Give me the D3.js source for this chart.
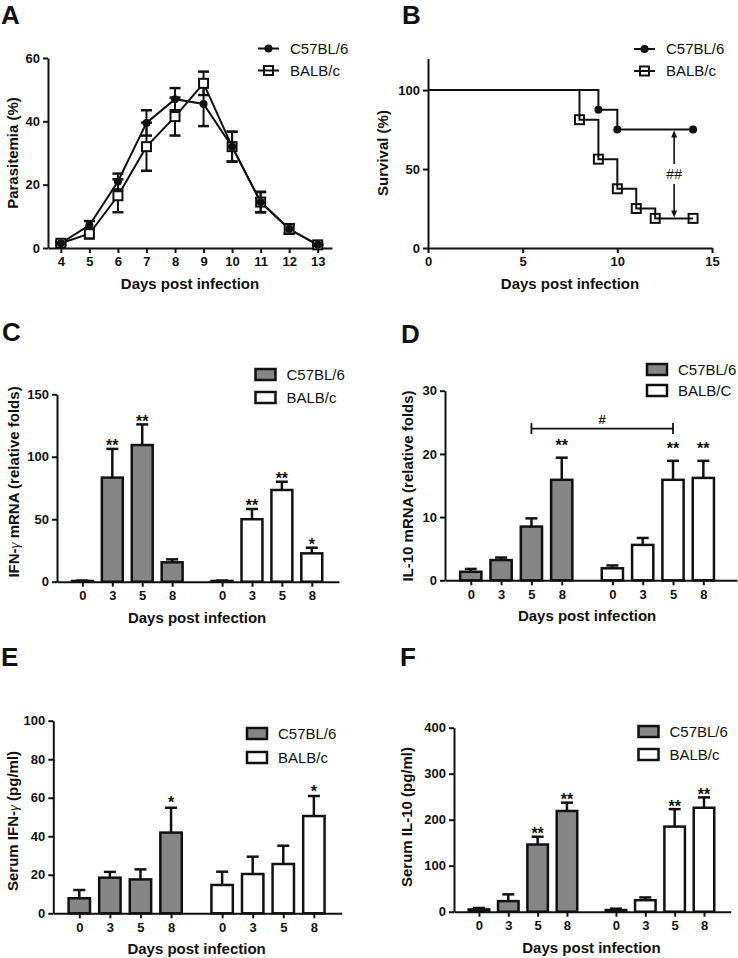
<!DOCTYPE html>
<html><head><meta charset="utf-8">
<script src="https://cdn.jsdelivr.net/npm/d3@7"></script>
<style>
body{margin:0;background:#fff}
svg{display:block}
</style></head><body>
<svg id="chart" width="738" height="958"></svg>
<script>
// ================= DATA =================
const strainNames = ["C57BL/6", "BALB/c"];
const strainNamesD = ["C57BL/6", "BALB/C"];

// Panel A: parasitemia (%)
const parasitemiaDays = [4, 5, 6, 7, 8, 9, 10, 11, 12, 13];
const parasitemiaC57 = [1.5, 7.2, 21, 39.5, 47, 45.5, 32, 14.5, 6, 1];
const parasitemiaC57Err = [0.5, 1.3, 2.5, 4, 3.5, 7, 4.7, 3.2, 1.5, 0.2];
const parasitemiaBALB = [1.5, 4.5, 16.5, 32, 41.5, 52, 32, 14.5, 6, 1];
const parasitemiaBALBErr = [0.5, 1.5, 5.2, 7.6, 6, 3.7, 4.7, 3.2, 1.5, 0.2];
const parasitemiaTicks = [0, 20, 40, 60];

// Panel B: survival (%)
const survivalC57Days = [0, 9, 10, 14];
const survivalC57 = [100, 87.5, 75, 75];
const survivalBALBDays = [0, 8, 9, 10, 11, 12, 14];
const survivalBALB = [100, 81.25, 56.25, 37.5, 25, 18.75, 18.75];
const survivalTicksY = [0, 50, 100];
const survivalTicksX = [0, 5, 10, 15];
const survivalCompareDay = 13;
const survivalCompareLabel = "##";

// Bar panels: days
const barDayLabels = ["0", "3", "5", "8"];

// Panel C: IFN-gamma mRNA
const ifnMrnaC57 = [0.6, 83.3, 109.4, 15.5];
const ifnMrnaC57Err = [0.3, 23, 16.5, 2.4];
const ifnMrnaC57Sig = ["", "**", "**", ""];
const ifnMrnaBALB = [0.6, 50, 73.4, 22.7];
const ifnMrnaBALBErr = [0.3, 8.2, 6.6, 4.5];
const ifnMrnaBALBSig = ["", "**", "**", "*"];
const ifnMrnaTicks = [0, 50, 100, 150];

// Panel D: IL-10 mRNA
const il10MrnaC57 = [1.35, 3.2, 8.5, 15.9];
const il10MrnaC57Err = [0.45, 0.4, 1.3, 3.5];
const il10MrnaC57Sig = ["", "", "", "**"];
const il10MrnaBALB = [1.9, 5.6, 15.9, 16.2];
const il10MrnaBALBErr = [0.45, 1.1, 3.0, 2.7];
const il10MrnaBALBSig = ["", "", "**", "**"];
const il10MrnaTicks = [0, 10, 20, 30];
const il10CompareValue = 24;
const il10CompareDayIndex = 2;
const il10CompareLabel = "#";

// Panel E: serum IFN-gamma
const serumIfnC57 = [7.8, 18.5, 17.6, 41.9];
const serumIfnC57Err = [4.3, 3, 5.2, 12.9];
const serumIfnC57Sig = ["", "", "", "*"];
const serumIfnBALB = [14.7, 20.4, 25.6, 50.5];
const serumIfnBALBErr = [6.9, 9, 9.5, 10.4];
const serumIfnBALBSig = ["", "", "", "*"];
const serumIfnTicks = [0, 20, 40, 60, 80, 100];

// Panel F: serum IL-10
const serumIl10C57 = [5, 23, 146, 219];
const serumIl10C57Err = [3, 14.7, 17, 18];
const serumIl10C57Sig = ["", "", "**", "**"];
const serumIl10BALB = [3.6, 25, 185, 226];
const serumIl10BALBErr = [3, 6, 38, 22.5];
const serumIl10BALBSig = ["", "", "**", "**"];
const serumIl10Ticks = [0, 100, 200, 300, 400];

// ================= STYLE =================
const FONT = '"Liberation Sans", Arial, Helvetica, sans-serif';
const INK = "#111";
const GRAY = "#868686";
const GROUP_OFFSET = 4.67;
const svg = d3.select("#chart");

function styleAxis(g) {
  g.attr("font-family", FONT);
  g.select(".domain").attr("stroke", INK).attr("stroke-width", 2);
  g.selectAll(".tick line").attr("stroke", INK).attr("stroke-width", 2);
  g.selectAll(".tick text").attr("font-size", 13).attr("font-weight", "bold").attr("fill", INK);
}
function panelLetter(letter, x, y) {
  svg.append("text").attr("x", x).attr("y", y).text(letter)
    .attr("font-family", FONT).attr("font-size", 26).attr("font-weight", "bold").attr("fill", INK);
}
function xTitle(x, y) {
  svg.append("text").attr("x", x).attr("y", y).attr("text-anchor", "middle")
    .attr("font-family", FONT).attr("font-size", 15).attr("font-weight", "bold").attr("fill", INK)
    .text("Days post infection");
}
function yTitle(parts, x, y) {
  const t = svg.append("text").attr("transform", `translate(${x},${y}) rotate(-90)`)
    .attr("text-anchor", "middle").attr("font-family", FONT).attr("font-size", 15)
    .attr("font-weight", "bold").attr("fill", INK);
  parts.forEach(p => {
    const s = t.append("tspan").text(p.t);
    if (p.greek) s.attr("font-weight", "normal").attr("font-family", '"Liberation Serif", "DejaVu Serif", serif').attr("font-style", "italic");
  });
}
function drawMarker(g, type, cx, cy, fill) {
  if (type === "circle") {
    g.append("circle").attr("cx", cx).attr("cy", cy).attr("r", 4).attr("fill", INK);
  } else {
    g.append("rect").attr("x", cx - 4.5).attr("y", cy - 4.5).attr("width", 9).attr("height", 9)
      .attr("fill", fill).attr("stroke", INK).attr("stroke-width", 2);
  }
}
function lineLegend(items, x, y, dy) {
  items.forEach((it, i) => {
    const yy = y + i * dy;
    svg.append("line").attr("x1", x).attr("x2", x + 21).attr("y1", yy).attr("y2", yy)
      .attr("stroke", INK).attr("stroke-width", 2);
    drawMarker(svg, it.type, x + 10.5, yy, "none");
    svg.append("text").attr("x", x + 32).attr("y", yy).attr("dy", "0.36em").text(it.name)
      .attr("font-family", FONT).attr("font-size", 15).attr("fill", INK);
  });
}

// ================= PANEL A =================
(function () {
  const L = 48, R = 332, B = 248, T = 58;
  const x = d3.scaleLinear().domain([3.55, 13.5]).range([L, R]);
  const y = d3.scaleLinear().domain([0, 60]).range([B, T]);
  const g = svg.append("g");
  styleAxis(g.append("g").attr("transform", `translate(0,${B})`)
    .call(d3.axisBottom(x).tickValues(parasitemiaDays).tickFormat(d3.format("d")).tickSize(5).tickPadding(4).tickSizeOuter(0)));
  styleAxis(g.append("g").attr("transform", `translate(${L},0)`)
    .call(d3.axisLeft(y).tickValues(parasitemiaTicks).tickSize(5).tickPadding(3).tickSizeOuter(0)));
  const series = [
    { vals: parasitemiaBALB, err: parasitemiaBALBErr, type: "square" },
    { vals: parasitemiaC57, err: parasitemiaC57Err, type: "circle" }
  ];
  const line = d3.line().x((d, i) => x(parasitemiaDays[i])).y(d => y(d));
  series.forEach(s => {
    g.append("path").datum(s.vals).attr("d", line).attr("fill", "none").attr("stroke", INK).attr("stroke-width", 2);
    s.vals.forEach((v, i) => {
      const cx = x(parasitemiaDays[i]);
      g.append("line").attr("x1", cx).attr("x2", cx).attr("y1", y(v - s.err[i])).attr("y2", y(v + s.err[i]))
        .attr("stroke", INK).attr("stroke-width", 2);
      [v - s.err[i], v + s.err[i]].forEach(e => g.append("line").attr("x1", cx - 5.5).attr("x2", cx + 5.5)
        .attr("y1", y(e)).attr("y2", y(e)).attr("stroke", INK).attr("stroke-width", 2.5));
    });
  });
  series.forEach(s => s.vals.forEach((v, i) => drawMarker(g, s.type, x(parasitemiaDays[i]), y(v), "#fff")));
  lineLegend([{ name: strainNames[0], type: "circle" }, { name: strainNames[1], type: "square" }], 258, 48.5, 22);
  xTitle((L + R) / 2, B + 41);
  yTitle([{ t: "Parasitemia (%)" }], 18, 153);
  panelLetter("A", 1, 24);
})();

// ================= PANEL B =================
(function () {
  const L = 428, R = 712, B = 248, T = 58.5;
  const x = d3.scaleLinear().domain([0, 15]).range([L, R]);
  const y = d3.scaleLinear().domain([0, 120]).range([B, T]);
  const g = svg.append("g");
  styleAxis(g.append("g").attr("transform", `translate(0,${B})`)
    .call(d3.axisBottom(x).tickValues(survivalTicksX).tickSize(5).tickPadding(4).tickSizeOuter(0)));
  styleAxis(g.append("g").attr("transform", `translate(${L},0)`)
    .call(d3.axisLeft(y).tickValues(survivalTicksY).tickSize(5).tickPadding(3).tickSizeOuter(0)));
  const step = d3.line().curve(d3.curveStepAfter).x(d => x(d[0])).y(d => y(d[1]));
  const series = [
    { days: survivalBALBDays, vals: survivalBALB, type: "square" },
    { days: survivalC57Days, vals: survivalC57, type: "circle" }
  ];
  series.forEach(s => {
    const pts = s.days.map((d, i) => [d, s.vals[i]]);
    g.append("path").datum(pts).attr("d", step).attr("fill", "none").attr("stroke", INK).attr("stroke-width", 2);
    pts.slice(1).forEach(p => drawMarker(g, s.type, x(p[0]), y(p[1]), "none"));
  });
  // comparison arrow
  const ax = x(survivalCompareDay);
  const yTopV = survivalC57[survivalC57.length - 1], yBotV = survivalBALB[survivalBALB.length - 1];
  const y1 = y(yTopV), y2 = y(yBotV), ym = (y1 + y2) / 2;
  g.append("line").attr("x1", ax).attr("x2", ax).attr("y1", y1 + 5).attr("y2", ym - 10).attr("stroke", INK).attr("stroke-width", 1.6);
  g.append("line").attr("x1", ax).attr("x2", ax).attr("y1", ym + 10).attr("y2", y2 - 5).attr("stroke", INK).attr("stroke-width", 1.6);
  g.append("path").attr("d", `M${ax},${y1 + 1}L${ax - 3},${y1 + 8}L${ax + 3},${y1 + 8}Z`).attr("fill", INK);
  g.append("path").attr("d", `M${ax},${y2 - 1}L${ax - 3},${y2 - 8}L${ax + 3},${y2 - 8}Z`).attr("fill", INK);
  g.append("text").attr("x", ax).attr("y", ym).attr("dy", "0.36em").attr("text-anchor", "middle")
    .attr("font-family", FONT).attr("font-size", 14).attr("fill", INK).text(survivalCompareLabel);
  lineLegend([{ name: strainNames[0], type: "circle" }, { name: strainNames[1], type: "square" }], 634, 49, 22);
  xTitle((L + R) / 2, B + 41);
  yTitle([{ t: "Survival (%)" }], 388, 153);
  panelLetter("B", 402, 24);
})();

// ================= BAR PANELS =================
function barPanel(o) {
  const g = svg.append("g");
  const x = d3.scaleLinear().domain(o.slotDomain).range([o.left, o.right]);
  const y = d3.scaleLinear().domain([0, o.yMax]).range([o.bottom, o.top]);
  const bw = (x(1) - x(0)) * 0.7;
  const groups = [
    { vals: o.c57, err: o.c57Err, sig: o.c57Sig, fill: GRAY },
    { vals: o.balb, err: o.balbErr, sig: o.balbSig, fill: "#fff" }
  ];
  const slots = [], labels = [];
  groups.forEach((s, gi) => barDayLabels.forEach((d, i) => { slots.push(i + gi * GROUP_OFFSET); labels.push(d); }));
  const pos = (gi, i) => x(i + gi * GROUP_OFFSET);

  groups.forEach((s, gi) => {
    const data = s.vals.map((v, i) => ({ v, e: s.err[i], sig: s.sig[i], cx: pos(gi, i) }));
    g.selectAll(null).data(data).join("line")
      .attr("x1", d => d.cx).attr("x2", d => d.cx).attr("y1", d => y(d.v)).attr("y2", d => y(d.v + d.e))
      .attr("stroke", INK).attr("stroke-width", 2.5);
    g.selectAll(null).data(data).join("line")
      .attr("x1", d => d.cx - 6).attr("x2", d => d.cx + 6).attr("y1", d => y(d.v + d.e)).attr("y2", d => y(d.v + d.e))
      .attr("stroke", INK).attr("stroke-width", 2.5);
    g.selectAll(null).data(data).join("rect")
      .attr("x", d => d.cx - bw / 2).attr("y", d => y(d.v)).attr("width", bw).attr("height", d => y(0) - y(d.v))
      .attr("fill", s.fill).attr("stroke", INK).attr("stroke-width", 2.5);
    g.selectAll(null).data(data.filter(d => d.sig)).join("text")
      .attr("x", d => d.cx).attr("y", d => y(d.v + d.e) - o.starGap + 9.5).attr("text-anchor", "middle")
      .attr("font-family", FONT).attr("font-size", 16).attr("font-weight", "bold").attr("fill", INK).text(d => d.sig);
  });

  styleAxis(g.append("g").attr("transform", `translate(0,${o.bottom})`)
    .call(d3.axisBottom(x).tickValues(slots).tickFormat((d, i) => labels[i]).tickSize(5).tickPadding(4).tickSizeOuter(0)));
  styleAxis(g.append("g").attr("transform", `translate(${o.left},0)`)
    .call(d3.axisLeft(y).tickValues(o.ticks).tickSize(5).tickPadding(3).tickSizeOuter(0)));

  if (o.compare) {
    const xa = pos(0, o.compare.index), xb = pos(1, o.compare.index), yc = y(o.compare.value);
    g.append("line").attr("x1", xa).attr("x2", xb).attr("y1", yc).attr("y2", yc).attr("stroke", INK).attr("stroke-width", 1.8);
    [xa, xb].forEach(xx => g.append("line").attr("x1", xx).attr("x2", xx).attr("y1", yc - 5.5).attr("y2", yc + 5.5)
      .attr("stroke", INK).attr("stroke-width", 1.8));
    g.append("text").attr("x", (xa + xb) / 2).attr("y", yc - 5).attr("text-anchor", "middle")
      .attr("font-family", FONT).attr("font-size", 13).attr("font-weight", "bold").attr("fill", INK).text(o.compare.label);
  }

  // legend
  o.names.forEach((nm, i) => {
    const ly = o.legY + i * o.legDy;
    svg.append("rect").attr("x", o.legX).attr("y", ly).attr("width", 20).attr("height", 11)
      .attr("fill", groups[i].fill).attr("stroke", INK).attr("stroke-width", 2.5);
    svg.append("text").attr("x", o.legX + 31).attr("y", ly + 5.5).attr("dy", "0.36em").text(nm)
      .attr("font-family", FONT).attr("font-size", 15).attr("fill", INK);
  });

  xTitle((pos(0, 0) + pos(1, 3)) / 2, o.bottom + 41);
  yTitle(o.yLabel, o.yLabX, o.yLabY);
  panelLetter(o.letter, o.letX, o.letY);
}

barPanel({
  letter: "C", letX: 2, letY: 341,
  left: 57, right: 339, bottom: 581.7, top: 394.3, yMax: 150, ticks: ifnMrnaTicks, slotDomain: [-0.85, 8.58],
  c57: ifnMrnaC57, c57Err: ifnMrnaC57Err, c57Sig: ifnMrnaC57Sig,
  balb: ifnMrnaBALB, balbErr: ifnMrnaBALBErr, balbSig: ifnMrnaBALBSig,
  starGap: 7, names: strainNames, legX: 255.5, legY: 369, legDy: 23,
  yLabel: [{ t: "IFN-" }, { t: "γ", greek: true }, { t: " mRNA (relative folds)" }], yLabX: 19, yLabY: 482
});
barPanel({
  letter: "D", letX: 401, letY: 343,
  left: 445, right: 737, bottom: 580.3, top: 390.7, yMax: 30, ticks: il10MrnaTicks, slotDomain: [-0.85, 8.78],
  c57: il10MrnaC57, c57Err: il10MrnaC57Err, c57Sig: il10MrnaC57Sig,
  balb: il10MrnaBALB, balbErr: il10MrnaBALBErr, balbSig: il10MrnaBALBSig,
  starGap: 16, names: strainNamesD, legX: 647, legY: 364, legDy: 21,
  compare: { index: il10CompareDayIndex, value: il10CompareValue, label: il10CompareLabel },
  yLabel: [{ t: "IL-10 mRNA (relative folds)" }], yLabX: 413, yLabY: 486
});
barPanel({
  letter: "E", letX: 1, letY: 666,
  left: 53.3, right: 341.7, bottom: 913.3, top: 720.7, yMax: 100, ticks: serumIfnTicks, slotDomain: [-0.85, 8.58],
  c57: serumIfnC57, c57Err: serumIfnC57Err, c57Sig: serumIfnC57Sig,
  balb: serumIfnBALB, balbErr: serumIfnBALBErr, balbSig: serumIfnBALBSig,
  starGap: 9, names: strainNames, legX: 247, legY: 728, legDy: 24,
  yLabel: [{ t: "Serum IFN-" }, { t: "γ", greek: true }, { t: " (pg/ml)" }], yLabX: 18, yLabY: 821
});
barPanel({
  letter: "F", letX: 400, letY: 666,
  left: 454, right: 730.7, bottom: 911.7, top: 727.7, yMax: 400, ticks: serumIl10Ticks, slotDomain: [-0.85, 8.58],
  c57: serumIl10C57, c57Err: serumIl10C57Err, c57Sig: serumIl10C57Sig,
  balb: serumIl10BALB, balbErr: serumIl10BALBErr, balbSig: serumIl10BALBSig,
  starGap: 7, names: strainNames, legX: 638.5, legY: 726, legDy: 23,
  yLabel: [{ t: "Serum IL-10 (pg/ml)" }], yLabX: 412, yLabY: 817
});
</script>
</body></html>
